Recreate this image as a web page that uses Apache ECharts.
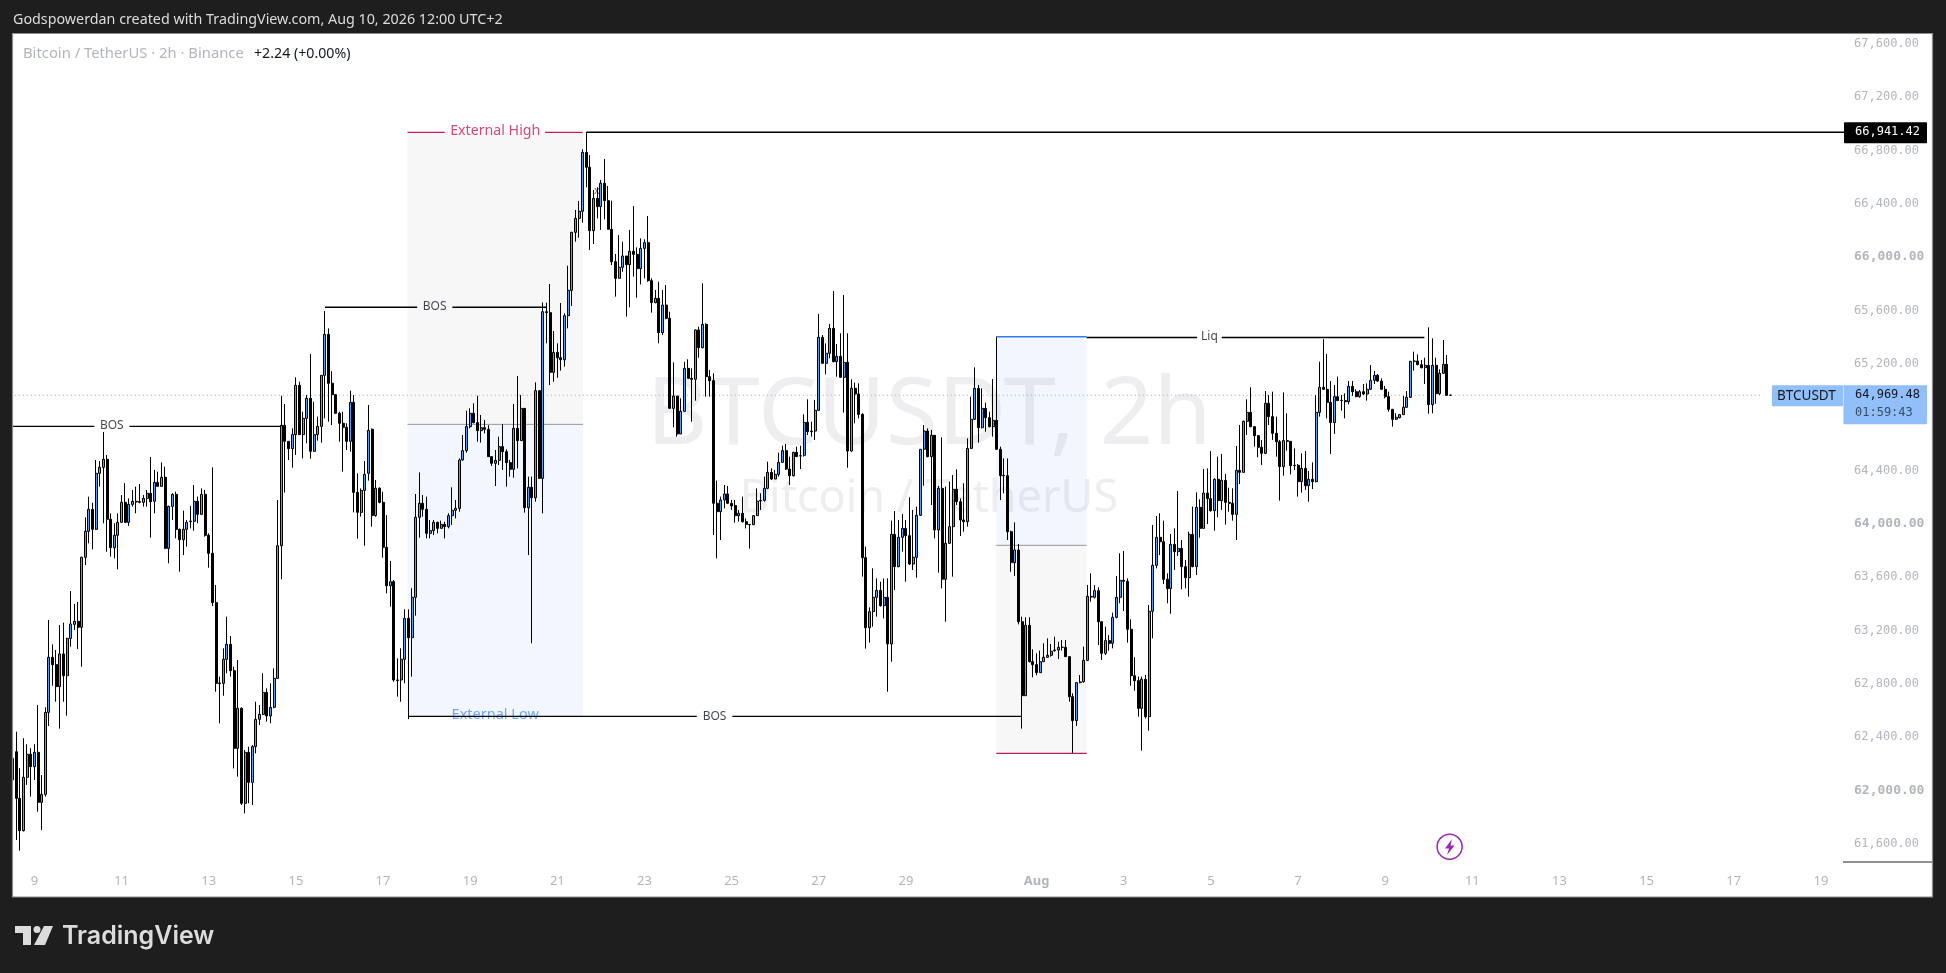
<!DOCTYPE html>
<html><head><meta charset="utf-8">
<style>html,body{margin:0;padding:0;background:#1e1e1e}#c{width:1946px;height:973px}</style>
<script src="https://cdn.jsdelivr.net/npm/echarts@6/dist/echarts.min.js"></script>
</head><body><div id="c"></div>
<script>
const opens=[62084,
62296,61946,61704,62104,62277,62184,62291,61916,61976,
62591,63004,62949,62784,63029,62866,63146,63251,63274,63229,
63754,63949,64114,63964,64384,64429,64489,64039,63826,63919,
64016,64166,64016,64151,64174,64172,64166,64196,64234,64174,
64316,64286,64354,63821,64136,64226,63964,63886,63964,64021,
64024,64174,64076,64226,63919,63784,63414,62811,62809,62989,
63101,62904,62321,62621,61909,62291,62066,62334,62539,62576,
62741,62564,62629,62846,63841,64744,64624,64569,64674,65044,
64674,64796,64946,64549,64674,64736,65119,65426,65059,64974,
64834,64759,64729,64624,64916,64241,64091,64256,64384,64714,
64067,64272,64166,63829,63541,63571,62834,62834,62989,63296,
63151,63454,64054,64159,64114,63934,63954,64016,63971,64001,
63984,64066,64106,64121,64484,64554,64734,64834,64764,64704,
64726,64714,64509,64459,64481,64584,64546,64464,64414,64721,
64629,64871,64126,64279,64201,65004,64346,65596,65589,65141,
65291,65251,65236,65566,65756,66191,66296,66349,66791,66679,
66204,66446,66384,66559,66429,66214,65971,65846,65929,66014,
65949,66049,66026,65919,66071,66114,65829,65664,65696,65439,
65646,65546,64871,64964,64679,64849,65171,65096,65089,65459,
65326,65501,65109,65079,64159,64096,64184,64229,64159,64142,
64066,64084,64021,64001,63999,64066,64176,64181,64271,64391,
64341,64376,64466,64554,64416,64366,64541,64514,64519,64766,
64696,64701,64856,65404,65209,65284,65471,65221,65261,65104,
65216,64551,65021,64979,64826,63751,63226,63346,63454,63506,
63391,63454,63104,63926,63684,63904,63971,63916,63704,63754,
64069,64564,64701,64509,64669,63959,64271,63589,63859,63984,
64264,64171,64034,64021,64571,64789,65021,64726,64871,64801,
64734,64781,64564,64366,64366,63946,63714,63809,63271,62716,
63244,62971,62949,62889,62971,63004,63019,63054,63059,63079,
63079,63009,62709,62529,62814,62821,62981,63461,63454,63504,
63271,63034,63129,63109,63304,63454,63581,63574,63214,62866,
62829,62621,62839,62559,63349,63694,63904,63871,63589,63519,
63851,63796,63821,63684,63601,63926,63684,64129,63971,64236,
64194,64104,64339,64179,64331,64166,64159,64076,64406,64391,
64774,64841,64734,64666,64579,64534,64909,64809,64684,64621,
64434,64629,64624,64441,64444,64321,64421,64291,64339,64321,
64841,65029,65014,64916,64764,64959,64929,64929,64921,65036,
64996,64959,64996,64979,65014,65081,65119,65076,65014,64959,
64864,64789,64801,64824,64879,64954,65224,65226,65199,65176,
65194,64899,65194,64981,65134,65201,64969.48];
const closes=[62246,
61946,61704,62104,62277,62184,62291,61916,61976,62591,
63004,62949,62784,63029,62866,63146,63254,63274,63229,63754,
63949,64114,63964,64384,64429,64489,64039,63826,63919,64016,
64166,64016,64151,64174,64169,64166,64196,64234,64171,64316,
64286,64354,63821,64136,64226,63964,63886,63964,64016,64026,
64174,64076,64226,63919,63784,63414,62809,62807,62989,63101,
62904,62321,62621,61909,62291,62066,62334,62539,62576,62741,
62564,62629,62846,63841,64744,64624,64569,64674,65044,64674,
64796,64946,64549,64674,64736,65119,65426,65059,64974,64834,
64759,64729,64624,64916,64241,64091,64256,64376,64706,64067,
64272,64166,63829,63541,63571,62834,62830,62989,63296,63151,
63454,64054,64159,64114,63934,63954,64016,63971,64001,63984,
64066,64106,64121,64484,64554,64734,64834,64764,64704,64726,
64714,64509,64459,64481,64584,64546,64464,64414,64721,64629,
64871,64126,64279,64201,65004,64346,65596,65589,65141,65291,
65251,65236,65566,65756,66191,66296,66349,66791,66679,66204,
66446,66384,66559,66429,66214,65971,65846,65929,66014,65949,
66049,66026,65919,66071,66114,65829,65664,65696,65439,65646,
65546,64871,64964,64679,64849,65171,65096,65089,65459,65326,
65501,65109,65079,64159,64096,64184,64229,64159,64139,64066,
64084,64021,64001,63999,64066,64176,64181,64271,64391,64341,
64376,64466,64554,64416,64366,64541,64509,64516,64766,64696,
64701,64856,65404,65209,65284,65471,65221,65261,65104,65216,
64551,65021,64979,64826,63751,63226,63346,63454,63506,63391,
63454,63104,63926,63684,63904,63971,63916,63704,63754,64069,
64564,64701,64509,64669,63959,64271,63589,63859,63984,64264,
64171,64034,64021,64571,64789,65021,64726,64871,64801,64734,
64781,64564,64366,64369,63946,63714,63809,63271,62716,63244,
62971,62949,62889,62971,63004,63019,63049,63059,63079,63079,
63009,62709,62529,62814,62819,62981,63461,63456,63504,63271,
63034,63129,63109,63304,63454,63581,63574,63214,62866,62829,
62621,62839,62559,63349,63694,63904,63871,63589,63519,63851,
63796,63821,63684,63601,63926,63684,64129,63971,64236,64194,
64104,64339,64179,64331,64166,64159,64076,64406,64391,64774,
64841,64734,64666,64579,64534,64909,64809,64684,64621,64434,
64629,64624,64441,64444,64321,64421,64291,64339,64321,64841,
65029,65014,64916,64764,64959,64929,64931,64921,65036,64996,
64959,64996,64979,65014,65081,65119,65076,65014,64959,64864,
64789,64804,64824,64879,64954,65224,65226,65199,65176,65194,
64899,65194,64981,65134,65201,64969,64969.48];
const highs=[62334,
62446,62172,62397,62352,62322,62352,62646,62121,62629,
63284,63101,63059,63246,63264,63151,63501,63404,63419,63759,
64054,64209,64164,64484,64476,64694,64521,64084,64009,64084,
64221,64311,64196,64259,64284,64304,64221,64259,64506,64409,
64396,64466,64434,64141,64234,64246,63969,64104,64034,64139,
64296,64209,64271,64259,63934,64429,63546,62859,63071,63309,
63164,62934,62984,62629,62309,62334,62346,62671,62646,62884,
62771,62809,62921,64184,64966,64904,64624,64721,65104,65071,
64846,64971,65279,64921,64809,65119,65601,65471,65151,64974,
64846,64846,64759,65004,64971,64384,64271,64476,64896,64721,
64334,64279,64246,64071,63726,63584,62996,63071,63364,63364,
63522,64229,64391,64221,64209,64034,64034,64021,64029,64021,
64084,64279,64184,64496,64671,64854,64871,64909,64966,64821,
64784,64746,64509,64559,64659,64754,64564,64484,64904,65114,
64971,64871,64359,64359,65066,65004,65666,65664,65804,65451,
65359,65661,65584,65941,66196,66359,66426,66814,66941,66771,
66509,66529,66584,66741,66539,66429,66029,66171,66121,66014,
66209,66389,66079,66146,66139,66314,65846,65759,65821,65759,
65796,65596,65216,64964,64946,65221,65239,65171,65464,65484,
65809,65509,65159,65134,64329,64209,64296,64289,64184,64184,
64109,64209,64046,64004,64071,64271,64234,64359,64471,64421,
64409,64539,64591,64604,64509,64546,64584,64591,64826,64939,
64771,64934,65579,65421,65359,65504,65751,65354,65434,65721,
65434,65089,65064,65059,64834,63834,63379,63671,63596,63571,
63596,63596,64029,64101,64034,64079,64034,64204,64109,64134,
64566,64746,64721,64709,64671,64289,64654,64284,64321,64371,
64414,64196,64309,64646,64959,65179,65046,65021,64914,64846,
65091,65409,64584,64496,64496,63954,64016,63854,63309,63304,
63304,63064,63034,63054,63109,63146,63104,63159,63121,63134,
63134,63014,62734,62814,62871,63084,63546,63634,63546,63529,
63271,63234,63171,63339,63614,63784,63801,63596,63289,63004,
62859,62859,62871,63396,63996,64064,64084,64029,63634,63929,
63971,64251,63884,63734,63946,64134,64241,64189,64416,64421,
64551,64346,64509,64529,64379,64276,64271,64589,64746,64779,
64939,65029,64734,64671,64634,65001,64971,64996,64809,64634,
64991,64834,64626,64571,64454,64534,64551,64401,64466,64971,
65221,65391,65279,65076,65046,65109,64971,64984,65076,65076,
65014,65009,65054,65059,65196,65151,65129,65096,65039,64996,
64866,64834,64829,64964,65001,65226,65296,65276,65234,65251,
65479,65396,65251,65164,65384,65271,64975];
const lows=[62009,
61634,61554,61697,62047,61959,62084,61846,61709,61959,
62489,62791,62671,62469,62671,62566,63084,63209,63066,62934,
63696,63859,63814,63959,64284,64009,63796,63759,63746,63664,
64014,64014,63989,64134,64084,64159,64134,64134,63901,64084,
64284,64284,63819,63709,64034,63896,63646,63771,63834,63971,
63954,64009,64071,63909,63676,63389,62746,62509,62716,62884,
62859,62171,62109,61896,61834,61909,61896,62284,62496,62571,
62521,62509,62621,62844,63589,64239,64484,64426,64521,64671,
64496,64609,64494,64546,64629,64614,64796,64771,64746,64829,
64621,64396,64559,64546,64091,63894,64059,63841,64329,63984,
64059,64159,63751,63484,63384,62821,62709,62671,62809,62540,
62859,63316,63901,64059,63896,63896,63921,63934,63971,63896,
63971,63996,64046,64096,64479,64539,64721,64759,64621,64614,
64684,64509,64439,64289,64446,64409,64284,64359,64351,64421,
64629,64089,63771,63109,64171,64341,64084,65359,65046,65071,
65101,65154,65184,65471,65639,66121,66151,66264,66529,66059,
66104,66296,66209,66289,66214,65946,65709,65846,65896,65559,
65629,65859,65701,65801,65846,65821,65589,65659,65359,65421,
65539,64871,64729,64659,64679,64846,65096,64771,64929,65251,
65321,64959,64959,63921,63746,63884,64121,64154,64109,64014,
64021,64014,63971,63819,63996,64066,64109,64171,64264,64334,
64341,64359,64464,64409,64296,64359,64509,64416,64509,64671,
64659,64634,64854,65209,65126,65246,65216,65109,65104,64839,
64426,64546,64759,64796,63609,63069,63114,63234,63309,63384,
63296,62746,62971,63509,63679,63796,63571,63696,63659,63601,
64064,64291,64504,64146,63896,63639,63521,63271,63854,63609,
64146,63914,63946,63984,64566,64784,64614,64721,64696,64729,
64659,64559,64184,64234,63884,63646,63614,63251,62469,62714,
62966,62854,62869,62889,62971,63001,63009,63046,62991,63054,
63009,62671,62284,62489,62809,62814,62976,63421,63444,63096,
62984,63021,63054,63071,63296,63409,63351,63114,62791,62754,
62559,62304,62544,62454,63146,63671,63771,63554,63409,63331,
63659,63764,63514,63521,63459,63679,63621,63901,63966,64004,
64096,63954,64054,64109,63999,64096,64029,63884,64304,64389,
64671,64729,64584,64504,64446,64529,64746,64634,64509,64179,
64366,64554,64376,64409,64209,64239,64259,64171,64266,64316,
64809,65009,64796,64529,64679,64929,64854,64796,64901,64964,
64954,64951,64971,64929,65009,65054,65071,65009,64946,64846,
64734,64784,64796,64821,64876,64949,65154,65194,65171,65054,
64831,64834,64906,64971,65129,64966,64965];

const priceTicks=[67600,67200,66800,66400,66000,65600,65200,64800,64400,64000,63600,63200,62800,62400,62000,61600];
const boldPriceTicks=[66000,64000,62000];
const timeTickBars=[6,30,54,78,102,126,150,174,198,222,246,282,306,330,354,378,402,426,450,474,498];
const timeTickLabels=['9','11','13','15','17','19','21','23','25','27','29','Aug','3','5','7','9','11','13','15','17','19'];

const lastPrice=64969.48, externalHigh=66941.42;
const rangeMid=64751, externalLow=62561;
const liqHigh=65408, liqLine=65402, liqMid=63844, liqLow=62284;
const bos1=64736, bos2=65629, bos3=62561;
const rangeBars=[108.74,157.07], liqBars=[270.9,295.8];

const barCount=505, barPx=3.631, gridLeft=10.85;
const textFont='"Noto Sans", sans-serif';
const monoFont='"DejaVu Sans Mono", monospace';
const black='#000000';

const categories=Array.from({length:barCount},(_,i)=>{
  const k=timeTickBars.indexOf(i);
  return k>=0?timeTickLabels[k]:'';
});
const candles=opens.map((o,i)=>[o,closes[i],lows[i],highs[i]]);

function seg(a,b,price,color,width,z){
  return {type:'line',xAxisIndex:1,yAxisIndex:0,silent:true,symbol:'none',animation:false,z:z,
    lineStyle:{color:color,width:width},
    data:[[a,price],[b,price]]};
}
function area(x1,x2,y1,y2,color){
  return {type:'line',xAxisIndex:1,yAxisIndex:0,silent:true,symbol:'none',animation:false,z:1,data:[],
    markArea:{silent:true,animation:false,itemStyle:{color:color},data:[[{coord:[x1,y1]},{coord:[x2,y2]}]]}};
}
const noteData=[
 {value:[27.3,bos1+6],name:'BOS',c:'#131722',s:12},
 {value:[116.2,bos2+6],name:'BOS',c:'#131722',s:12},
 {value:[193.3,bos3+0],name:'BOS',c:'#131722',s:12},
 {value:[132.9,externalHigh+12],name:'External High',c:'#cc1a5a',s:14.2},
 {value:[329.6,liqLine+4],name:'Liq',c:'#131722',s:12},
];
const series=[
 area(rangeBars[0],rangeBars[1],externalHigh,rangeMid,'rgba(120,123,134,0.06)'),
 area(rangeBars[0],rangeBars[1],rangeMid,externalLow,'rgba(41,98,255,0.06)'),
 area(liqBars[0],liqBars[1],liqHigh,liqMid,'rgba(41,98,255,0.06)'),
 area(liqBars[0],liqBars[1],liqMid,liqLow,'rgba(120,123,134,0.06)'),
 seg(rangeBars[0],rangeBars[1],rangeMid,'#9598a1',1,2),
 seg(liqBars[0],liqBars[1],liqMid,'#9598a1',1,2),
 {type:'line',xAxisIndex:1,yAxisIndex:0,silent:true,symbol:'none',animation:false,z:2,
   lineStyle:{color:'#7fb0f5',width:1.2,type:[1,3]},data:[[-0.5,lastPrice],[481.7,lastPrice]]},
 {type:'candlestick',xAxisIndex:0,yAxisIndex:0,z:5,animation:false,large:false,progressive:0,
   barWidth:2.5,data:candles,clip:true,
   itemStyle:{color:'#5b9cf6',color0:'#000000',borderColor:'#000000',borderColor0:'#000000',borderWidth:1}},
 seg(-0.5,22.5,bos1,black,1.4,8), seg(32.15,74,bos1,black,1.4,8),
 seg(86,111.4,bos2,black,1.4,8), seg(121.1,147,bos2,black,1.4,8),
 seg(109,188.4,bos3,black,1.4,8), seg(198.2,278,bos3,black,1.4,8),
 seg(rangeBars[0],119,externalHigh,'#cc1a5a',1.3,8), seg(146.6,157,externalHigh,'#cc1a5a',1.3,8),
 seg(158,barCount-0.5,externalHigh,black,1.4,8),
 seg(liqBars[0],liqBars[1],liqHigh,'#2e7de9',1.3,8),
 seg(liqBars[1],326.2,liqLine,black,1.4,8), seg(333,388.8,liqLine,black,1.4,8),
 seg(liqBars[0],liqBars[1],liqLow,'#b71c5c',1.2,8),
 {type:'scatter',xAxisIndex:1,yAxisIndex:0,silent:true,animation:false,z:4,symbolSize:0,
   data:[{value:[132.9,externalLow+10],name:'External Low'}],
   label:{show:true,position:'inside',formatter:'{b}',color:'#4d94f5',fontFamily:textFont,fontSize:14.5}},
 {type:'scatter',xAxisIndex:1,yAxisIndex:0,silent:true,animation:false,z:9,symbolSize:0,
   data:noteData.map(d=>({value:d.value,name:d.name,
     label:{show:true,position:'inside',formatter:'{b}',color:d.c,fontSize:d.s,fontFamily:textFont}}))}
];

const chart=echarts.init(document.getElementById('c'),null,{renderer:'canvas',width:1946,height:973});
const option={
 animation:false,backgroundColor:'#1e1e1e',
 grid:{left:gridLeft,top:34,width:barCount*barPx,height:828,containLabel:false},
 tooltip:{show:false},legend:{show:false},
 xAxis:[
  {type:'category',data:categories,boundaryGap:true,gridIndex:0,
   axisLine:{show:false},axisTick:{show:false},splitLine:{show:false},
   axisLabel:{interval:0,margin:13,hideOverlap:false,color:'#b2b5be',fontFamily:textFont,fontSize:13,
     formatter:v=>v==='Aug'?'{b|Aug}':v,rich:{b:{fontWeight:'bold',color:'#b2b5be',fontSize:13,fontFamily:textFont}}}},
  {type:'value',gridIndex:0,min:-0.5,max:barCount-0.5,show:false}
 ],
 yAxis:[{type:'value',position:'right',min:61468.75,max:67678.75,scale:true,
   axisLine:{show:false},axisTick:{show:false},splitLine:{show:false},
   axisLabel:{show:true,margin:9.5,padding:[0,0,1.5,0],customValues:priceTicks,color:'#b2b5be',fontFamily:monoFont,fontSize:12,
     formatter:v=>{const s=v.toLocaleString('en-US',{minimumFractionDigits:2,maximumFractionDigits:2});
       return boldPriceTicks.includes(v)?'{b|'+s+'}':s;},
     rich:{b:{fontWeight:'bold',color:'#b2b5be',fontSize:13,fontFamily:monoFont}}}}],
 series:series
};
chart.setOption(option);

const py=v=>chart.convertToPixel({yAxisIndex:0},v);
const yLast=py(lastPrice), yHigh=py(externalHigh);
const T=(x,y,text,fill,size,extra)=>({type:'text',x:x,y:y,z:(extra&&extra.z)||20,silent:true,
  style:Object.assign({text:text,fill:fill,fontSize:size,fontFamily:textFont,textAlign:'left',textVerticalAlign:'middle'},extra||{})});
const R=(x,y,w,h,fill,z,r)=>({type:'rect',silent:true,z:z,shape:{x:x,y:y,width:w,height:h,r:r||0},style:{fill:fill}});
chart.setOption({graphic:[
 R(13,34,1919,863,'#ffffff',-20),
 T(929,417,'BTCUSDT, 2h','#eeeef0',94,{textAlign:'center',z:-10}),
 T(929,499,'Bitcoin / TetherUS','#eeeef0',45,{textAlign:'center',z:-10}),
 T(597,191,'x','#6b6b6b',11,{textAlign:'center',z:3}),
 R(0,0,12.5,973,'#1e1e1e',60),
 {type:'rect',silent:true,z:61,shape:{x:12.5,y:33.5,width:1920,height:863.5},style:{fill:'none',stroke:'#8a8a8a',lineWidth:1.2}},
 T(13,20,'Godspowerdan created with TradingView.com, Aug 10, 2026 12:00 UTC+2','#dddddd',14.3,{z:70}),
 T(23,54,'Bitcoin / TetherUS · 2h · Binance','#b2b5be',14.8,{z:70}),
 T(254,54,'+2.24 (+0.00%)','#131722',14.2,{z:70}),
 R(1843,861.5,89,1,'#1e222d',30),
 R(1772,yLast-10,71,21,'#90bff9',30,1),
 R(1843.5,yLast-10,83.5,39,'#90bff9',30,1),
 T(1777,yLast+0.5,'BTCUSDT','#131722',13.5,{z:31}),
 T(1855,yLast,'64,969.48','#131722',12,{fontFamily:monoFont,z:31}),
 T(1855,yLast+18,'01:59:43','#3d4a63',12,{fontFamily:monoFont,z:31}),
 R(1844,yHigh-10,83,21,'#000000',30,1),
 T(1855,yHigh,'66,941.42','#ffffff',12,{fontFamily:monoFont,z:31}),
 {type:'circle',silent:true,z:30,shape:{cx:1449.6,cy:846.7,r:12.5},style:{fill:'#fff',stroke:'#9c27b0',lineWidth:1.5}},
 {type:'polygon',silent:true,z:31,shape:{points:[[1452,839],[1445,848.5],[1449,848.5],[1447,855],[1454.5,845.5],[1450.5,845.5]]},style:{fill:'#9c27b0'}},
 {type:'polygon',silent:true,z:30,shape:{points:[[15,926],[31,926],[31,945],[23,945],[23,933],[15,933]]},style:{fill:'#dcdcdc'}},
 {type:'circle',silent:true,z:30,shape:{cx:37,cy:929.5,r:3.5},style:{fill:'#dcdcdc'}},
 {type:'polygon',silent:true,z:30,shape:{points:[[44,926],[53,926],[45,945],[34,945]]},style:{fill:'#dcdcdc'}},
 T(62,936.5,'TradingView','#dcdcdc',25,{fontFamily:'Inter, sans-serif',fontWeight:600,z:30})
]});
</script></body></html>
